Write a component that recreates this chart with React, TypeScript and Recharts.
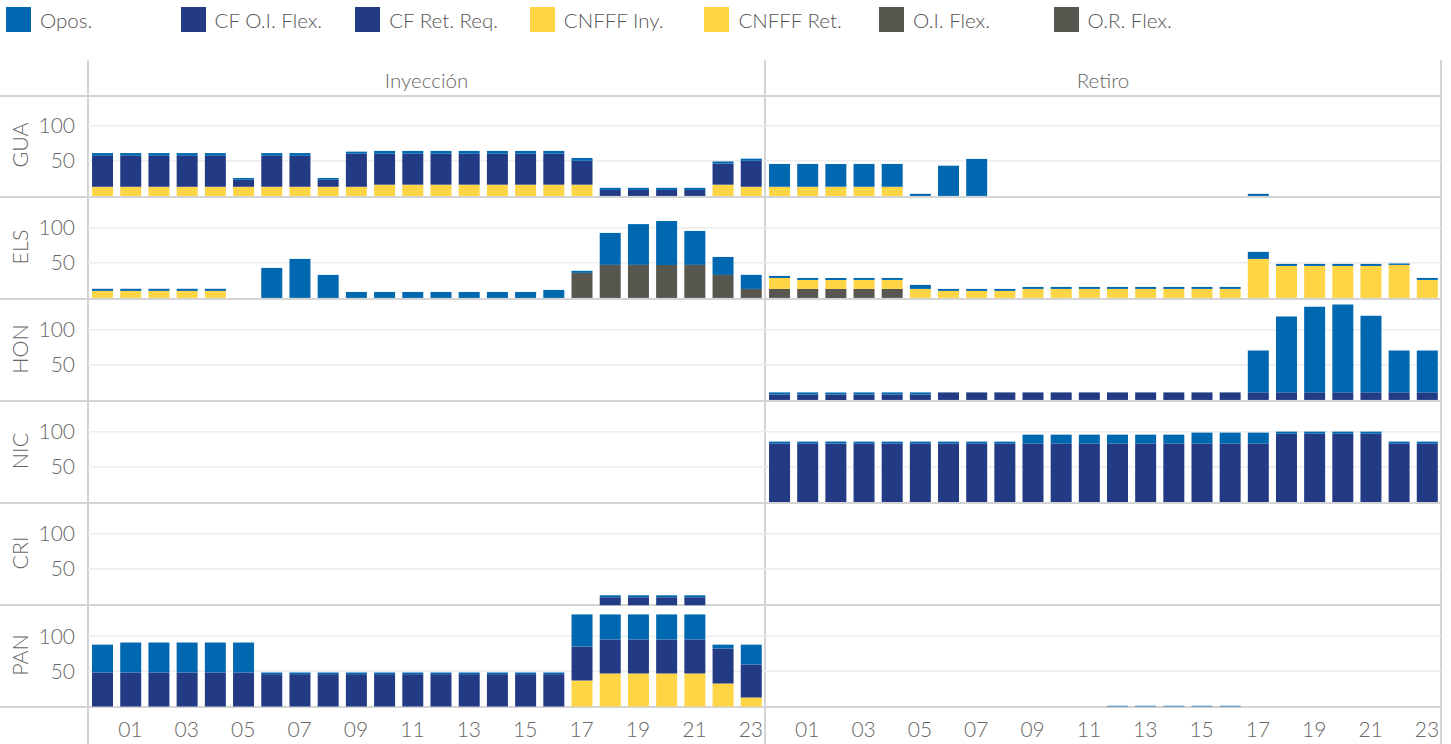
import React from 'react';
import { BarChart, Bar, XAxis, YAxis, CartesianGrid } from 'recharts';

// ---------- categories / labels ----------
const HOURS = ['00','01','02','03','04','05','06','07','08','09','10','11','12','13','14','15','16','17','18','19','20','21','22','23'];
const X_TICK_LABELS = ['01','03','05','07','09','11','13','15','17','19','21','23'];
const Y_TICKS = [50, 100];
const REGIONS = ['GUA', 'ELS', 'HON', 'NIC', 'CRI', 'PAN'];
const COLUMNS = ['Inyección', 'Retiro'];
const LEGEND_LABELS = ['Opos.', 'CF O.I. Flex.', 'CF Ret. Req.', 'CNFFF Iny.', 'CNFFF Ret.', 'O.I. Flex.', 'O.R. Flex.'];

// ---------- series values (24 hours each) ----------
// panes with no marks at all
const emptyOpos   = [0,0,0,0,0,0,0,0,0,0,0,0,0,0,0,0,0,0,0,0,0,0,0,0];
// GUA – Inyección
const guaInyCnfff = [13,13,13,13,13,13,13,13,13,13,16,16,16,16,16,16,16,16,0,0,0,0,16,13];
const guaInyCf    = [44,44,44,44,44,10,44,44,10,47,44,44,44,44,44,44,44,34,8.5,8.5,8.5,8.5,30,37];
const guaInyOpos  = [4,4,4,4,4,2.5,4,4,2.5,3,4,4,4,4,4,4,4,4,3,3,3,3,3,3];
// GUA – Retiro
const guaRetCnfff = [13,13,13,13,13,0,0,0,0,0,0,0,0,0,0,0,0,0,0,0,0,0,0,0];
const guaRetOpos  = [32.5,32.5,32.5,32.5,32.5,3,43,52.6,0,0,0,0,0,0,0,0,0,3,0,0,0,0,0,0];
// ELS – Inyección
const elsInyFlex  = [0,0,0,0,0,0,0,0,0,0,0,0,0,0,0,0,0,35.6,47,47,47,47,32.7,12.8];
const elsInyCnfff = [10,10,10,10,10,0,0,0,0,0,0,0,0,0,0,0,0,0,0,0,0,0,0,0];
const elsInyOpos  = [3,3,3,3,3,0,42.7,55.5,32.7,8.5,8.5,8.5,8.5,8.5,8.5,8.5,11.4,3,45.5,58,62.5,48.3,25.6,20];
// ELS – Retiro
const elsRetFlex  = [12.8,12.8,12.8,12.8,12.8,0,0,0,0,0,0,0,0,0,0,0,0,0,0,0,0,0,0,0];
const elsRetCnfff = [15.6,12.8,12.8,12.8,12.8,12.8,10,10,10,12.8,12.8,12.8,12.8,12.8,12.8,12.8,12.8,55.5,45.5,45.5,45.5,45.5,47,25.6];
const elsRetOpos  = [2.9,2.8,2.8,2.8,2.8,5.7,2.8,2.8,2.8,2.8,2.8,2.8,2.8,2.8,2.8,2.8,2.8,10,2.9,2.9,2.9,2.9,2,2.8];
// HON – Retiro
const honRetCf    = [7.8,7.8,7.8,7.8,7.8,7.8,10.7,10.7,10.7,10.7,10.7,10.7,10.7,10.7,10.7,10.7,10.7,10.7,10.7,10.7,10.7,10.7,10.7,10.7];
const honRetOpos  = [2.9,2.9,2.9,2.9,2.9,2.9,0,0,0,0,0,0,0,0,0,0,0,59.7,108,122,125,109,59.7,59.7];
// NIC – Retiro
const nicRetCf    = [83,83,83,83,83,83,83,83,83,83,83,83,83,83,83,83,83,83,97,97,97,97,83,83];
const nicRetOpos  = [2.8,2.8,2.8,2.8,2.8,2.8,2.8,2.8,2.8,12.7,12.7,12.7,12.7,12.7,12.7,15.6,15.6,15.6,3,3,3,3,2.8,2.8];
// PAN – Inyección
const panInyCnfff = [0,0,0,0,0,0,0,0,0,0,0,0,0,0,0,0,0,37,47,47,47,47,32.7,12.8];
const panInyCf    = [48.4,48.4,48.4,48.4,48.4,48.4,46,46,46,46,46,46,46,46,46,46,46,48.3,48.3,48.3,48.3,48.3,49.8,46.9];
const panInyOpos  = [39.6,42.6,42.6,42.6,42.6,42.6,2.4,2.4,2.4,2.4,2.4,2.4,2.4,2.4,2.4,2.4,2.4,45.7,35.7,35.7,35.7,35.7,5.5,28.3];
// PAN – Inyección, part of the tallest bars drawn past the pane top
const panInyHidden   = [0,0,0,0,0,0,0,0,0,0,0,0,0,0,0,0,0,0,13,13,13,13,0,0];
const panInyCfTop    = [0,0,0,0,0,0,0,0,0,0,0,0,0,0,0,0,0,0,11.4,11.4,11.4,11.4,0,0];
const panInyOposTop  = [0,0,0,0,0,0,0,0,0,0,0,0,0,0,0,0,0,0,2.8,2.8,2.8,2.8,0,0];
// PAN – Retiro
const panRetOpos  = [0,0,0,0,0,0,0,0,0,0,0,0,1,1,1,1,1,0,0,0,0,0,0,0];

// ---------- styling ----------
const C_OPOS = '#0068b1';
const C_CF = '#233a84';
const C_CNFFF = '#fdd545';
const C_FLEX = '#57564f';
const LEGEND_COLORS = [C_OPOS, C_CF, C_CF, C_CNFFF, C_CNFFF, C_FLEX, C_FLEX];
const FONT = 'Lato, "Noto Sans", sans-serif';
const FONT_WEIGHT = 300;
const TXT = '#666';

const PX_PER_UNIT = 0.703;
const Y_MAX = 145;
const Y_MAX_PAN = 170;
const BASE0 = 196.3;
const ROW_STEP = 102;
const COL_X = [88, 765];
const COL_W = [677, 676];
const RIGHT_EDGE = 1441;
const Y_AXIS_W = 88;
const X_AXIS_H = 38;

type Series = { key: string; name: string; color: string; values: number[] };

const emptyPane = (): Series[] => [{ key: 'opos', name: 'Opos.', color: C_OPOS, values: emptyOpos }];

const PANELS: Record<string, Series[][]> = {
  GUA: [
    [
      { key: 'cnfff', name: 'CNFFF Iny.', color: C_CNFFF, values: guaInyCnfff },
      { key: 'cf', name: 'CF O.I. Flex.', color: C_CF, values: guaInyCf },
      { key: 'opos', name: 'Opos.', color: C_OPOS, values: guaInyOpos },
    ],
    [
      { key: 'cnfff', name: 'CNFFF Ret.', color: C_CNFFF, values: guaRetCnfff },
      { key: 'opos', name: 'Opos.', color: C_OPOS, values: guaRetOpos },
    ],
  ],
  ELS: [
    [
      { key: 'flex', name: 'O.I. Flex.', color: C_FLEX, values: elsInyFlex },
      { key: 'cnfff', name: 'CNFFF Iny.', color: C_CNFFF, values: elsInyCnfff },
      { key: 'opos', name: 'Opos.', color: C_OPOS, values: elsInyOpos },
    ],
    [
      { key: 'flex', name: 'O.R. Flex.', color: C_FLEX, values: elsRetFlex },
      { key: 'cnfff', name: 'CNFFF Ret.', color: C_CNFFF, values: elsRetCnfff },
      { key: 'opos', name: 'Opos.', color: C_OPOS, values: elsRetOpos },
    ],
  ],
  HON: [
    emptyPane(),
    [
      { key: 'cf', name: 'CF Ret. Req.', color: C_CF, values: honRetCf },
      { key: 'opos', name: 'Opos.', color: C_OPOS, values: honRetOpos },
    ],
  ],
  NIC: [
    emptyPane(),
    [
      { key: 'cf', name: 'CF Ret. Req.', color: C_CF, values: nicRetCf },
      { key: 'opos', name: 'Opos.', color: C_OPOS, values: nicRetOpos },
    ],
  ],
  CRI: [emptyPane(), emptyPane()],
  PAN: [
    [
      { key: 'cnfff', name: 'CNFFF Iny.', color: C_CNFFF, values: panInyCnfff },
      { key: 'cf', name: 'CF O.I. Flex.', color: C_CF, values: panInyCf },
      { key: 'opos', name: 'Opos.', color: C_OPOS, values: panInyOpos },
      { key: 'hidden', name: 'hidden', color: 'transparent', values: panInyHidden },
      { key: 'cfTop', name: 'CF Ret. Req.', color: C_CF, values: panInyCfTop },
      { key: 'oposTop', name: 'Opos.', color: C_OPOS, values: panInyOposTop },
    ],
    [
      { key: 'opos', name: 'Opos.', color: C_OPOS, values: panRetOpos },
    ],
  ],
};

function Panel({ series, col, rowIdx, isLast }: { series: Series[]; col: number; rowIdx: number; isLast: boolean }) {
  const baseline = BASE0 + rowIdx * ROW_STEP;
  const yMax = isLast ? Y_MAX_PAN : Y_MAX;
  const plotH = yMax * PX_PER_UNIT;
  const top = baseline - plotH;
  const showY = col === 0;
  const left = showY ? 0 : COL_X[1];
  const width = showY ? COL_X[0] + COL_W[0] : COL_W[1];
  const height = plotH + (isLast ? X_AXIS_H : 0);
  const rows = HOURS.map((h, i) => {
    const r: Record<string, string | number> = { hour: h };
    series.forEach((s) => { r[s.key] = s.values[i]; });
    return r;
  });
  const tickStyle = { fill: TXT, fontSize: 21, fontWeight: FONT_WEIGHT };
  return (
    <div style={{ position: 'absolute', left, top, width, height }}>
      <BarChart width={width} height={height} data={rows} margin={{ top: 0, right: 0, bottom: 0, left: 0 }} barSize={21}>
        <CartesianGrid vertical={false} horizontalValues={Y_TICKS} stroke="#ededed" strokeWidth={1.5} />
        <XAxis
          dataKey="hour"
          hide={!isLast}
          height={X_AXIS_H}
          interval={0}
          tickLine={false}
          axisLine={false}
          tickSize={0}
          tickMargin={16}
          tick={tickStyle}
          tickFormatter={(v: string) => (X_TICK_LABELS.includes(v) ? v : '')}
        />
        <YAxis
          domain={[0, yMax]}
          ticks={Y_TICKS}
          hide={!showY}
          width={Y_AXIS_W}
          tickLine={false}
          axisLine={false}
          tickSize={0}
          tickMargin={13}
          tick={tickStyle}
        />
        {series.map((s) => (
          <Bar key={s.key} dataKey={s.key} name={s.name} stackId="s" fill={s.color} isAnimationActive={false} />
        ))}
      </BarChart>
    </div>
  );
}

export default function App() {
  const lineColor = '#d4d4d4';
  const dividers = [95.3, ...REGIONS.map((_, k) => BASE0 + k * ROW_STEP)];
  return (
    <div style={{ position: 'absolute', left: 0, top: 0, width: 1451, height: 744, background: '#fff', fontFamily: FONT, fontWeight: FONT_WEIGHT, overflow: 'hidden' }}>
      {/* legend */}
      {LEGEND_LABELS.map((lab, i) => (
        <div key={lab} style={{ position: 'absolute', left: 6 + i * 174.6, top: 7, height: 25, display: 'flex', alignItems: 'center' }}>
          <div style={{ width: 25, height: 25, background: LEGEND_COLORS[i] }} />
          <span style={{ marginLeft: 9, fontSize: 20.5, color: '#555', whiteSpace: 'nowrap' }}>{lab}</span>
        </div>
      ))}
      {/* column headers */}
      {COLUMNS.map((c, i) => (
        <div key={c} style={{ position: 'absolute', left: COL_X[i], width: COL_W[i], top: 66, height: 28, textAlign: 'center', fontSize: 20.5, color: TXT, lineHeight: '28px' }}>{c}</div>
      ))}
      {/* vertical lines */}
      {[COL_X[0], COL_X[1], RIGHT_EDGE].map((x, i) => (
        <div key={i} style={{ position: 'absolute', left: x - 1, top: 60, width: i === 0 ? 1.5 : 2, height: 684, background: lineColor }} />
      ))}
      {/* horizontal row dividers */}
      {dividers.map((y, i) => (
        <div key={i} style={{ position: 'absolute', left: 0, top: y - 0.5, width: RIGHT_EDGE, height: 2, background: lineColor }} />
      ))}
      {/* row labels */}
      {REGIONS.map((r, k) => (
        <div key={r} style={{ position: 'absolute', left: 20 - 40, top: BASE0 + k * ROW_STEP - 51 - 14, width: 80, height: 28, lineHeight: '28px', textAlign: 'center', transform: 'rotate(-90deg)', fontSize: 21.5, color: TXT }}>{r}</div>
      ))}
      {/* panels */}
      {REGIONS.map((r, k) => (
        <React.Fragment key={r}>
          {[0, 1].map((col) => (
            <Panel key={col} series={PANELS[r][col]} col={col} rowIdx={k} isLast={k === REGIONS.length - 1} />
          ))}
        </React.Fragment>
      ))}
    </div>
  );
}
